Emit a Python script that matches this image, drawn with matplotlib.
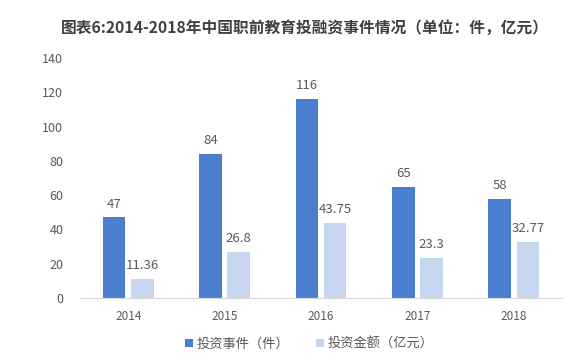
import numpy as np
import matplotlib.pyplot as plt

plt.rcParams['font.family'] = ['Noto Sans CJK SC', 'DejaVu Sans']

years = ['2014', '2015', '2016', '2017', '2018']
events = [47, 84, 116, 65, 58]
amounts = [11.36, 26.8, 43.75, 23.3, 32.77]
amount_labels = ['11.36', '26.8', '43.75', '23.3', '32.77']

dark = '#4a7fd0'
light = '#c6d6ee'
gray = '#595959'

fig = plt.figure(figsize=(5.8, 3.6), dpi=100)
ax = fig.add_axes([80 / 580, 1 - 298 / 360, 482 / 580, 240 / 360])

x = np.arange(len(years))
w = 0.235
off = 0.146
b1 = ax.bar(x - off, events, w, color=dark, label='投资事件（件）')
b2 = ax.bar(x + off, amounts, w, color=light, label='投资金额（亿元）')

for xi, v in zip(x, events):
    ax.text(xi - off, v + 4, str(v), ha='center', va='bottom', fontsize=9.5, color=gray)
for xi, v, s in zip(x, amounts, amount_labels):
    ax.text(xi + off, v + 4, s, ha='center', va='bottom', fontsize=9.5, color=gray)

ax.set_xlim(-0.5, len(years) - 0.5)
ax.set_ylim(0, 140)
ax.set_yticks(range(0, 141, 20))
ax.set_xticks(x)
ax.set_xticklabels(years)
ax.tick_params(axis='both', length=0, labelcolor=gray)
ax.tick_params(axis='y', pad=12, labelsize=9)
ax.tick_params(axis='x', pad=9, labelsize=8.5)
for s in ['top', 'right', 'left']:
    ax.spines[s].set_visible(False)
ax.spines['bottom'].set_color('#d9d9d9')

fig.text(0.526, 1 - 28 / 360, '图表6:2014-2018年中国职前教育投融资事件情况（单位：件，亿元）',
         ha='center', va='center', fontsize=11.3, fontweight='bold', color='#404040')

fig.legend(handles=[b1, b2], loc='center', bbox_to_anchor=(0.533, 1 - 344 / 360),
           ncol=2, frameon=False, fontsize=9.5, handlelength=0.6, handleheight=0.6,
           handletextpad=0.3, columnspacing=2.0, labelcolor=gray)

fig.savefig('out.png', dpi=100, facecolor='white')
